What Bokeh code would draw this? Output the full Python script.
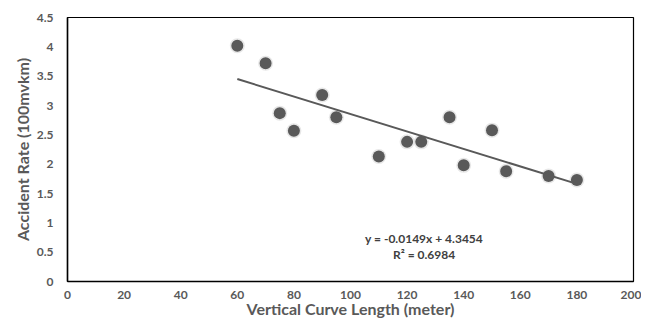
from bokeh.plotting import figure
from bokeh.models import Range1d, SingleIntervalTicker, Label
from bokeh.embed import file_html
from bokeh.resources import INLINE

curve_length = [60, 70, 75, 80, 90, 95, 110, 120, 125, 135, 140, 150, 155, 170, 180]
accident_rate = [4.02, 3.72, 2.87, 2.57, 3.18, 2.80, 2.13, 2.38, 2.38, 2.80, 1.98, 2.58, 1.88, 1.80, 1.73]
slope = -0.0149
intercept = 4.3454
r2 = 0.6984
trend_x = [min(curve_length), max(curve_length)]
trend_y = [slope * x + intercept for x in trend_x]

y_ticks = [0, 0.5, 1, 1.5, 2, 2.5, 3, 3.5, 4, 4.5]
y_tick_labels = ["0", "0.5", "1", "1.5", "2", "2.5", "3", "3.5", "4", "4.5"]

FONT = "Lato"
GRAY = "#595959"

p = figure(width=641, height=320, output_backend="svg", toolbar_location=None,
           x_range=Range1d(0, 200), y_range=Range1d(0, 4.5),
           min_border_left=67, min_border_top=17, min_border_right=8, min_border_bottom=33)

p.grid.visible = False
p.outline_line_color = "black"
p.outline_line_width = 1.2
p.background_fill_color = "white"
p.border_fill_color = "white"

p.xaxis.ticker = SingleIntervalTicker(interval=20)
p.yaxis.ticker = y_ticks
p.yaxis.major_label_overrides = {t: l for t, l in zip(y_ticks, y_tick_labels)}

for ax in (p.xaxis[0], p.yaxis[0]):
    ax.axis_line_color = "black"
    ax.axis_line_width = 1.5
    ax.major_tick_line_color = None
    ax.minor_tick_line_color = None
    ax.major_tick_in = 0
    ax.major_tick_out = 0
    ax.minor_tick_in = 0
    ax.minor_tick_out = 0
    ax.major_label_text_font = FONT
    ax.major_label_text_font_style = "bold"
    ax.major_label_text_font_size = "12px"
    ax.major_label_text_color = GRAY
    ax.axis_label_text_font = FONT
    ax.axis_label_text_font_style = "bold"
    ax.axis_label_text_font_size = "16px"
    ax.axis_label_text_color = GRAY

p.xaxis.major_label_standoff = 9
p.yaxis.major_label_standoff = 14
p.xaxis.axis_label = "Vertical Curve Length (meter)"
p.yaxis.axis_label = "Accident Rate (100mvkm)"
p.xaxis.axis_label_standoff = -3
p.yaxis.axis_label_standoff = 2

p.scatter(curve_length, accident_rate, size=15, color="#a0a0a0", alpha=0.25, line_color=None)
p.scatter(curve_length, accident_rate, size=12, color=GRAY, line_color=None)
p.line(trend_x, trend_y, line_color=GRAY, line_width=2)

p.add_layout(Label(x=126, y=0.73, text=f"y = {slope}x + {intercept}", text_align="center",
                   text_baseline="middle", text_font=FONT, text_font_style="bold",
                   text_font_size="12px", text_color="#404040"))
p.add_layout(Label(x=126, y=0.46, text=f"R² = {r2}", text_align="center",
                   text_baseline="middle", text_font=FONT, text_font_style="bold",
                   text_font_size="12px", text_color="#404040"))

open("out.html", "w").write(file_html(p, INLINE))
